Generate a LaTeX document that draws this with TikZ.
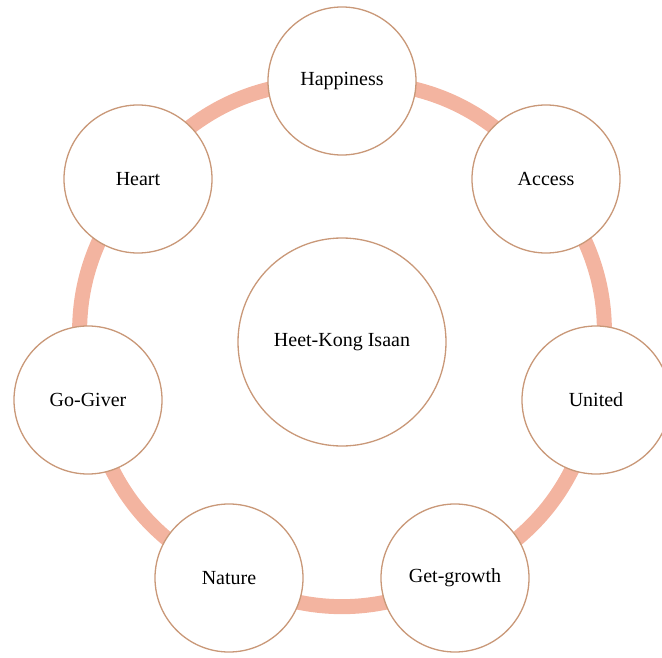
\documentclass[tikz,border=0pt]{standalone}
\usepackage{fontspec}
\setmainfont{Liberation Serif}
\usetikzlibrary{backgrounds}
\definecolor{ringsalmon}{HTML}{F3B4A0}
\definecolor{rimbrown}{HTML}{C99878}
\tikzset{
  value/.style={circle, draw=rimbrown, line width=1.3pt, fill=white, minimum size=148pt, inner sep=0pt, font=\fontsize{20}{24}\selectfont},
  core/.style={value, minimum size=208pt},
  ring/.style={draw=ringsalmon, line width=15pt}
}
\begin{document}
\begin{tikzpicture}[x=1pt, y=1pt]
        \useasboundingbox (0,0) rectangle (662,-658);
        % Nodes
        \node (core) [core] at (342, -342) {Heet-Kong Isaan};
        \node (happiness) [value] at (342, -81) {Happiness};
        \node (access) [value] at (546, -179) {Access};
        \node (united) [value] at (596, -400) {United};
        \node (getgrowth) [value] at (455, -578) {Get-growth};
        \node (nature) [value] at (229, -578) {Nature};
        \node (gogiver) [value] at (88, -400) {Go-Giver};
        \node (heart) [value] at (138, -179) {Heart};

        % Edges
        \begin{scope}[on background layer]
        \draw[ring] (happiness.center) to[bend left=25.7] (access.center);
        \draw[ring] (access.center) to[bend left=25.7] (united.center);
        \draw[ring] (united.center) to[bend left=25.7] (getgrowth.center);
        \draw[ring] (getgrowth.center) to[bend left=25.7] (nature.center);
        \draw[ring] (nature.center) to[bend left=25.7] (gogiver.center);
        \draw[ring] (gogiver.center) to[bend left=25.7] (heart.center);
        \draw[ring] (heart.center) to[bend left=25.7] (happiness.center);
        \end{scope}

    \end{tikzpicture}
\end{document}
